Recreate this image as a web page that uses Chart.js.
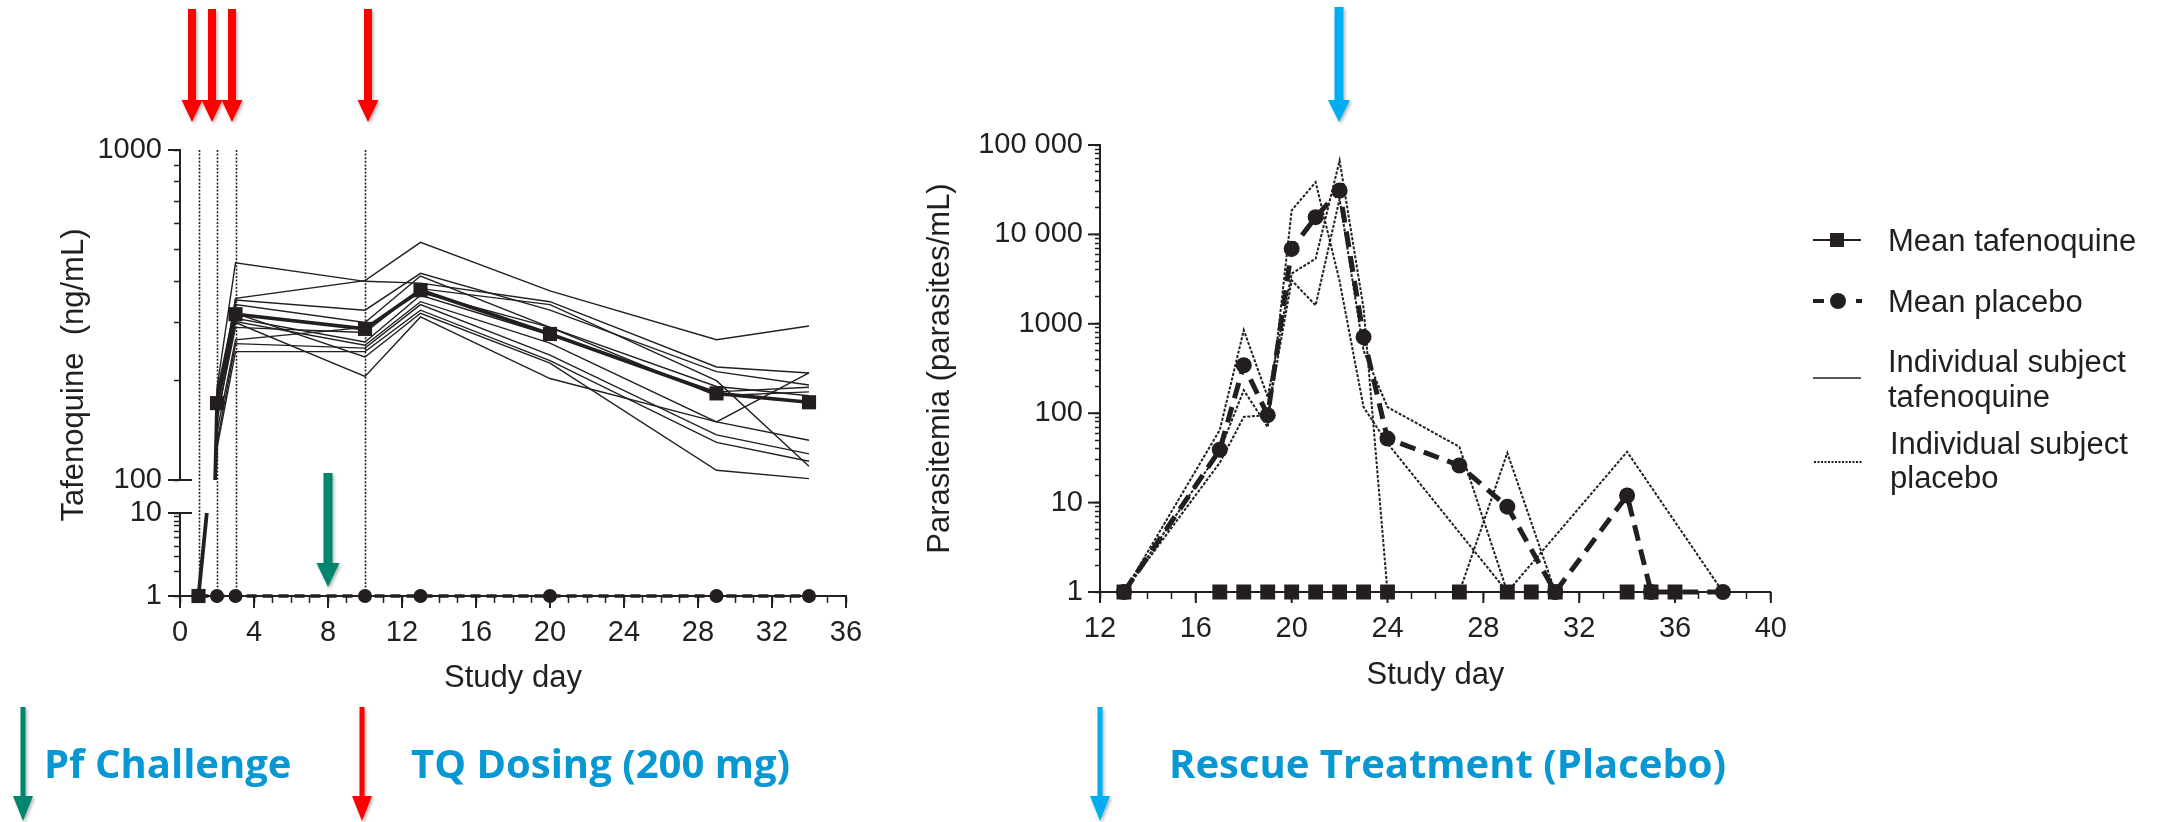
<!DOCTYPE html>
<html>
<head>
<meta charset="utf-8">
<script src="https://cdn.jsdelivr.net/npm/chart.js@4.4.1/dist/chart.umd.min.js"></script>
<style>
  html, body { margin: 0; padding: 0; background: #ffffff; }
  body { width: 2164px; height: 822px; position: relative; overflow: hidden; }
  #pk { position: absolute; left: 0; top: 0; }
  #para { position: absolute; left: 900px; top: 0; }
  #overlay { position: absolute; left: 0; top: 0; pointer-events: none; }
  .axt { font-family: "Liberation Sans", Arial, Helvetica, sans-serif; fill: #231f20; }
  .leg { font-family: "Liberation Sans", Arial, Helvetica, sans-serif; font-size: 31px; fill: #231f20; }
  .note { font-family: "Open Sans", "DejaVu Sans", sans-serif; font-weight: 700; font-size: 40px; fill: #0798D3; }
</style>
</head>
<body>
<canvas id="pk" width="880" height="720"></canvas>
<canvas id="para" width="900" height="720"></canvas>

<svg id="overlay" width="2164" height="822" viewBox="0 0 2164 822">
  <defs>
    <filter id="sh" x="-50%" y="-10%" width="200%" height="130%">
      <feDropShadow dx="1.5" dy="2" stdDeviation="1.5" flood-color="#000" flood-opacity="0.3"/>
    </filter>
  </defs>
  <!-- TQ dosing arrows (top) -->
  <g fill="#FF0000" filter="url(#sh)">
    <polygon points="188,9 196,9 196,100 202.5,100 192,122 181.5,100 188,100"/>
    <polygon points="208,9 216,9 216,100 222.5,100 212,122 201.5,100 208,100"/>
    <polygon points="228,9 236,9 236,100 242.5,100 232,122 221.5,100 228,100"/>
    <polygon points="364,9 372,9 372,100 378.5,100 368,122 357.5,100 364,100"/>
  </g>
  <!-- Pf challenge arrow (in chart) -->
  <polygon fill="#00866E" filter="url(#sh)" points="323.5,473 332.5,473 332.5,563 339.5,563 328,587 316.5,563 323.5,563"/>
  <!-- Rescue treatment arrow (top) -->
  <polygon fill="#00AEEF" filter="url(#sh)" points="1334.5,7 1343.5,7 1343.5,100 1350,100 1339,122 1328,100 1334.5,100"/>

  <!-- left y title -->
  <text class="axt" font-size="31" text-anchor="middle" xml:space="preserve" transform="translate(83,375) rotate(-90)">Tafenoquine  (ng/mL)</text>

  <!-- legend -->
  <line x1="1813" y1="240" x2="1861" y2="240" stroke="#231f20" stroke-width="2"/>
  <rect x="1830" y="233" width="14" height="14" fill="#231f20"/>
  <text class="leg" x="1888" y="251">Mean tafenoquine</text>

  <line x1="1813" y1="301" x2="1824" y2="301" stroke="#231f20" stroke-width="4"/>
  <circle cx="1838" cy="301" r="8" fill="#231f20"/>
  <line x1="1856" y1="301" x2="1862" y2="301" stroke="#231f20" stroke-width="4"/>
  <text class="leg" x="1888" y="312">Mean placebo</text>

  <line x1="1813" y1="378" x2="1861" y2="378" stroke="#231f20" stroke-width="1.6"/>
  <text class="leg" x="1888" y="372">Individual subject</text>
  <text class="leg" x="1888" y="407">tafenoquine</text>

  <line x1="1814" y1="462" x2="1863" y2="462" stroke="#231f20" stroke-width="1.8" stroke-dasharray="2,1.5"/>
  <text class="leg" x="1890" y="454">Individual subject</text>
  <text class="leg" x="1890" y="488">placebo</text>

  <!-- bottom key -->
  <g filter="url(#sh)">
    <polygon fill="#00866E" points="20.5,707 25.5,707 25.5,796 33,796 23,821 13,796 20.5,796"/>
    <polygon fill="#FF0000" points="359.5,707 364.5,707 364.5,796 372,796 362,821 352,796 359.5,796"/>
    <polygon fill="#00AEEF" points="1097.5,707 1102.5,707 1102.5,796 1110,796 1100,821 1090,796 1097.5,796"/>
  </g>
  <text class="note" x="44" y="778">Pf Challenge</text>
  <text class="note" x="411" y="778">TQ Dosing (200 mg)</text>
  <text class="note" x="1169" y="778">Rescue Treatment (Placebo)</text>
</svg>

<script>
Chart.defaults.font.family = '"Liberation Sans", Arial, Helvetica, sans-serif';
Chart.defaults.color = '#231f20';
const INK = '#231f20';

// ---------------- Left panel: tafenoquine PK ----------------
const pkDays = [1, 2, 3, 10, 13, 20, 29, 34];
const meanTafenoquinePK = [1, 171, 318, 287, 376, 277, 183, 172];
const meanPlaceboPK     = [1, 1, 1, 1, 1, 1, 1, 1];
const subject01 = [1, 190, 455, 400, 395, 347, 220, 211];
const subject02 = [1, 160, 355, 402, 525, 374, 266, 293];
const subject03 = [1, 175, 351, 327, 423, 327, 213, 194];
const subject04 = [1, 150, 309, 262, 363, 275, 185, 191];
const subject05 = [1, 165, 302, 256, 347, 260, 150, 211];
const subject06 = [1, 140, 266, 290, 370, 290, 192, 180];
const subject07 = [1, 130, 259, 251, 340, 239, 137, 120];
const subject08 = [1, 125, 245, 245, 327, 230, 130, 114];
const subject09 = [1, 180, 320, 236, 320, 226, 107, 101];
const subject10 = [1, 170, 300, 206, 312, 203, 150, 132];
const subject11 = [1, 155, 290, 280, 380, 340, 200, 110];
const subject12 = [1, 185, 340, 300, 415, 290, 180, 185];
const subjectsPK = [subject01, subject02, subject03, subject04, subject05, subject06,
                    subject07, subject08, subject09, subject10, subject11, subject12];
const doseDays = [1, 2, 3, 10];
const pkMajorX = [0, 4, 8, 12, 16, 20, 24, 28, 32, 36];
const pkUpperLabels = [100, 1000];
const pkLowerLabels = [1, 10];

// ---------------- Right panel: parasitemia ----------------
const paraDaysTQ = [13, 17, 18, 19, 20, 21, 22, 23, 24, 27, 29, 30, 31, 34, 35, 36];
const meanTafenoquinePara = [1, 1, 1, 1, 1, 1, 1, 1, 1, 1, 1, 1, 1, 1, 1, 1];
const paraDaysPlacebo = [13, 17, 18, 19, 20, 21, 22, 23, 24, 27, 29, 31, 34, 35, 38];
const meanPlaceboPara = [1, 39, 344, 95, 6900, 15600, 31000, 710, 52, 26, 9, 1, 12, 1, 1];
const placeboA_days = [13, 17, 18, 19, 20, 21, 22, 23, 24, 27, 29, 31];
const placeboA_vals = [1, 65, 850, 152, 3650, 5350, 67000, 1500, 1, 1, 36, 1];
const placeboB_days = [13, 17, 18, 19, 20, 21, 22, 23, 24, 29, 34, 38];
const placeboB_vals = [1, 38, 181, 70, 18600, 38400, 3000, 117, 46, 1, 37, 1];
const placeboC_days = [13, 17, 18, 19, 20, 21, 22, 23, 24, 27, 29];
const placeboC_vals = [1, 28, 91, 95, 3060, 1610, 25000, 500, 117, 42, 1];
const paraMajorY = [1, 10, 100, 1000, 10000, 100000];
const paraMajorYLabels = ['1', '10', '100', '1000', '10 000', '100 000'];
const paraMajorX = [12, 16, 20, 24, 28, 32, 36, 40];

// ---------------- helpers ----------------
const pts = (days, vals) => days.map((d, i) => ({ x: d, y: vals[i] }));
const intRange = (a, b) => { const r = []; for (let v = a; v <= b; v++) r.push(v); return r; };
const decadeTicks = (lo, hi) => { const r = []; for (let d = lo; d < hi; d *= 10) for (let k = 1; k < 10; k++) r.push(d * k); r.push(hi); return r; };
const setTicks = list => scale => { scale.ticks = list.map(v => ({ value: v })); };

const axisDecor = {
  id: 'axisDecor',
  afterDraw(chart, args, opts) {
    const ctx = chart.ctx;
    ctx.save();
    ctx.strokeStyle = INK;
    ctx.lineWidth = 2;
    (opts.marks || []).forEach(m => {
      const s = chart.scales[m.scale];
      m.values.forEach(v => {
        const p = s.getPixelForValue(v);
        ctx.beginPath();
        if (s.isHorizontal()) { ctx.moveTo(p, s.top); ctx.lineTo(p, s.top + m.len); }
        else { ctx.moveTo(s.right - m.len, p); ctx.lineTo(s.right + (m.right || 0), p); }
        ctx.stroke();
      });
    });
    ctx.restore();
  }
};

const doseLines = {
  id: 'doseLines',
  beforeDatasetsDraw(chart, args, opts) {
    if (!opts.days) return;
    const ctx = chart.ctx, a = chart.chartArea, x = chart.scales.x;
    ctx.save();
    ctx.strokeStyle = INK;
    ctx.lineWidth = 1.6;
    ctx.setLineDash([2, 1.6]);
    opts.days.forEach(d => {
      const px = Math.round(x.getPixelForValue(d)) + 0.5;
      ctx.beginPath(); ctx.moveTo(px, a.top); ctx.lineTo(px, a.bottom); ctx.stroke();
    });
    ctx.restore();
  }
};

const tickFont = { size: 29 };
const titleFont = { size: 31 };
const yGrid = { display: true, drawOnChartArea: false, drawTicks: true, tickLength: 6, tickWidth: 1.5, tickColor: INK };
const xGrid = { display: true, drawOnChartArea: false, drawTicks: true, tickLength: 7, tickWidth: 1.5, tickColor: INK };
const axBorder = { display: true, color: INK, width: 2 };
const clipUpper = { left: 14, right: 14, top: 14, bottom: 0 };
const clipLower = { left: 14, right: 14, top: 0, bottom: 14 };
const clipAll = { left: 14, right: 14, top: 14, bottom: 14 };

// ---------------- Left chart ----------------
const pkDatasets = [
  { data: pts(pkDays, meanTafenoquinePK), yAxisID: 'y', borderColor: INK, backgroundColor: INK, borderWidth: 3.6,
    pointStyle: 'rect', pointRadius: 10, pointBorderWidth: 0, order: 0, clip: clipUpper },
  { data: pts(pkDays, meanTafenoquinePK), yAxisID: 'yBot', borderColor: INK, backgroundColor: INK, borderWidth: 3.8,
    pointStyle: 'rect', pointRadius: 10, pointBorderWidth: 0, order: 0, clip: clipLower },
  { data: pts(pkDays, meanPlaceboPK), yAxisID: 'yBot', borderColor: INK, backgroundColor: INK, borderWidth: 3.5,
    borderDash: [10, 6], pointStyle: 'circle', pointRadius: 7, pointBorderWidth: 0, order: 1, clip: clipLower }
].concat(subjectsPK.map(s => ({
  data: pts(pkDays, s), yAxisID: 'y', borderColor: INK, borderWidth: 1.4, pointRadius: 0, order: 2, clip: clipUpper
})));

new Chart(document.getElementById('pk'), {
  type: 'line',
  data: { datasets: pkDatasets },
  options: {
    responsive: false, animation: false, events: [],
    layout: { padding: { left: 0, top: 150, right: 34, bottom: 14 } },
    plugins: {
      legend: { display: false }, tooltip: { enabled: false },
      doseLines: { days: doseDays },
      axisDecor: { marks: [
        { scale: 'x', values: pkMajorX, len: 12 },
        { scale: 'y', values: [1000], len: 12 },
        { scale: 'y', values: [100], len: 12, right: 12 },
        { scale: 'yBot', values: [10], len: 12, right: 12 },
        { scale: 'yBot', values: [1], len: 12 }
      ] }
    },
    scales: {
      x: {
        type: 'linear', min: 0, max: 36,
        afterBuildTicks: setTicks(intRange(0, 36)),
        ticks: { autoSkip: false, maxRotation: 0, font: tickFont, padding: 13,
                 callback: v => pkMajorX.includes(v) ? String(v) : '' },
        grid: xGrid, border: axBorder,
        title: { display: true, text: 'Study day', font: titleFont, padding: { top: 0, bottom: 9 } },
        afterFit: s => { s.height = 110; }
      },
      y: {
        type: 'logarithmic', min: 100, max: 1000, position: 'left', stack: 'pk', stackWeight: 330, weight: 3,
        afterBuildTicks: setTicks(decadeTicks(100, 1000)),
        ticks: { autoSkip: false, font: tickFont, padding: 12,
                 callback: v => pkUpperLabels.includes(v) ? String(v) : '' },
        grid: yGrid, border: axBorder,
        afterFit: s => { s.width = 180; }
      },
      yGap: {
        type: 'linear', position: 'left', stack: 'pk', stackWeight: 33, weight: 2,
        ticks: { display: false }, grid: { display: false }, border: { display: false },
        afterFit: s => { s.width = 180; }
      },
      yBot: {
        type: 'logarithmic', min: 1, max: 10, position: 'left', stack: 'pk', stackWeight: 83, weight: 1,
        afterBuildTicks: setTicks(decadeTicks(1, 10)),
        ticks: { autoSkip: false, font: tickFont, padding: 12,
                 callback: v => pkLowerLabels.includes(v) ? String(v) : '' },
        grid: yGrid, border: axBorder,
        afterFit: s => { s.width = 180; }
      }
    }
  },
  plugins: [doseLines, axisDecor]
});

// ---------------- Right chart ----------------
const dotted = { borderColor: INK, borderWidth: 2, borderDash: [3, 1.6], pointRadius: 0, order: 2, clip: clipAll };
new Chart(document.getElementById('para'), {
  type: 'line',
  data: { datasets: [
    { data: pts(paraDaysTQ, meanTafenoquinePara), borderColor: INK, backgroundColor: INK, borderWidth: 2.2,
      pointStyle: 'rect', pointRadius: 10.5, pointBorderWidth: 0, order: 0, clip: clipAll },
    { data: pts(paraDaysPlacebo, meanPlaceboPara), borderColor: INK, backgroundColor: INK, borderWidth: 5,
      borderDash: [16, 9], pointStyle: 'circle', pointRadius: 8, pointBorderWidth: 0, order: 1, clip: clipAll },
    Object.assign({ data: pts(placeboA_days, placeboA_vals) }, dotted),
    Object.assign({ data: pts(placeboB_days, placeboB_vals) }, dotted),
    Object.assign({ data: pts(placeboC_days, placeboC_vals) }, dotted)
  ] },
  options: {
    responsive: false, animation: false, events: [],
    layout: { padding: { left: 0, top: 145, right: 27, bottom: 18 } },
    plugins: {
      legend: { display: false }, tooltip: { enabled: false },
      axisDecor: { marks: [
        { scale: 'x', values: paraMajorX, len: 11 },
        { scale: 'y', values: paraMajorY, len: 12 }
      ] }
    },
    scales: {
      x: {
        type: 'linear', min: 12, max: 40,
        afterBuildTicks: setTicks(intRange(12, 40)),
        ticks: { autoSkip: false, maxRotation: 0, font: tickFont, padding: 13,
                 callback: v => paraMajorX.includes(v) ? String(v) : '' },
        grid: xGrid, border: axBorder,
        title: { display: true, text: 'Study day', font: titleFont, padding: { top: 0, bottom: 8 } },
        afterFit: s => { s.height = 110; }
      },
      y: {
        type: 'logarithmic', min: 1, max: 100000, position: 'left',
        afterBuildTicks: setTicks(decadeTicks(1, 100000)),
        ticks: { autoSkip: false, font: tickFont, padding: 12,
                 callback: v => { const i = paraMajorY.indexOf(v); return i >= 0 ? paraMajorYLabels[i] : ''; } },
        grid: Object.assign({}, yGrid, { tickLength: 5 }), border: axBorder,
        title: { display: true, text: 'Parasitemia (parasites/mL)', font: titleFont, padding: { top: 22, bottom: 0 } },
        afterFit: s => { s.width = 200; }
      }
    }
  },
  plugins: [axisDecor]
});
</script>
</body>
</html>
